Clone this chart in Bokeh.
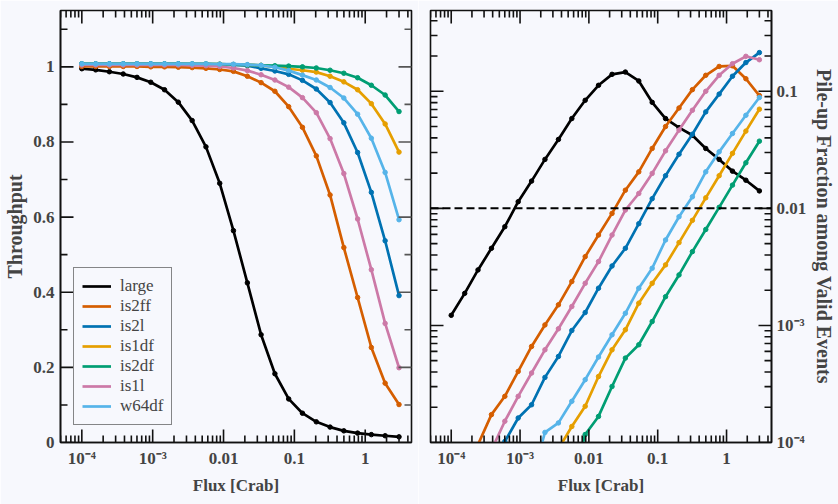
import math
import numpy as np
from bokeh.plotting import figure
from bokeh.models import (SingleIntervalTicker, LogTicker, CustomJSTickFormatter,
                          Span, Legend, LegendItem, Range1d)
from bokeh.layouts import row
from bokeh.embed import file_html
from bokeh.resources import INLINE

nan = float("nan")

# ---------------- data ----------------
flux = [1.0e-4, 1.57e-4, 2.45e-4, 3.84e-4, 6.01e-4, 9.4e-4, 1.47e-3, 2.30e-3,
        3.61e-3, 5.65e-3, 8.84e-3, 0.0138, 0.0217, 0.0339, 0.0531, 0.0831,
        0.130, 0.204, 0.319, 0.499, 0.781, 1.22, 1.91, 3.0]

series_names = ["large", "is2ff", "is2l", "is1df", "is2df", "is1l", "w64df"]
series_colors = ["#000000", "#d55e00", "#0072b2", "#e69f00", "#009e73", "#cc79a7", "#56b4e9"]

# Throughput (left panel)
thr_large = [0.995, 0.992, 0.987, 0.981, 0.972, 0.959, 0.939, 0.906, 0.857, 0.787,
             0.690, 0.564, 0.425, 0.287, 0.183, 0.116, 0.078, 0.055, 0.041, 0.031,
             0.025, 0.021, 0.018, 0.015]
thr_is2ff = [1.001, 1.001, 1.001, 1.001, 1.001, 1.000, 1.000, 0.999, 0.998, 0.996,
             0.993, 0.988, 0.975, 0.958, 0.935, 0.894, 0.839, 0.763, 0.659, 0.519,
             0.386, 0.253, 0.158, 0.101]
thr_is2l = [1.008, 1.008, 1.008, 1.008, 1.008, 1.008, 1.008, 1.008, 1.007, 1.007,
            1.006, 1.005, 1.003, 0.996, 0.989, 0.980, 0.964, 0.941, 0.905, 0.851,
            0.772, 0.666, 0.537, 0.391]
thr_is1df = [1.007, 1.007, 1.007, 1.007, 1.007, 1.007, 1.007, 1.007, 1.007, 1.007,
             1.007, 1.006, 1.005, 1.004, 1.000, 0.995, 0.991, 0.986, 0.975, 0.960,
             0.939, 0.902, 0.848, 0.773]
thr_is2df = [1.008, 1.008, 1.008, 1.008, 1.008, 1.008, 1.008, 1.008, 1.008, 1.008,
             1.007, 1.006, 1.005, 1.004, 1.003, 1.002, 1.000, 0.997, 0.991, 0.983,
             0.971, 0.951, 0.925, 0.881]
thr_is1l = [1.005, 1.005, 1.005, 1.005, 1.005, 1.005, 1.005, 1.005, 1.004, 1.003,
            1.001, 0.997, 0.990, 0.979, 0.965, 0.946, 0.918, 0.878, 0.809, 0.716,
            0.595, 0.460, 0.317, 0.199]
thr_w64df = [1.008, 1.008, 1.008, 1.008, 1.008, 1.008, 1.008, 1.008, 1.008, 1.008,
             1.007, 1.007, 1.006, 1.004, 0.999, 0.990, 0.978, 0.965, 0.945, 0.917,
             0.874, 0.810, 0.719, 0.593]

# Pile-up fraction (right panel)
pu_large = [1.22e-3, 1.88e-3, 2.98e-3, 4.56e-3, 6.97e-3, 0.0114, 0.0171, 0.0262,
            0.0388, 0.0585, 0.0838, 0.1125, 0.1396, 0.146, 0.1225, 0.0805, 0.0585,
            0.049, 0.0421, 0.0325, 0.0262, 0.0208, 0.0174, 0.0141]
pu_is2ff = [nan, nan, 9.6e-5, 1.73e-4, 2.48e-4, 4.05e-4, 6.61e-4, 1.01e-3, 1.50e-3,
            2.37e-3, 3.87e-3, 5.92e-3, 9.06e-3, 0.0143, 0.0205, 0.0325, 0.050, 0.072,
            0.1033, 0.137, 0.163, 0.165, 0.128, 0.092]
pu_is2l = [nan, nan, nan, nan, 1.02e-4, 1.62e-4, 2.10e-4, 3.60e-4, 5.43e-4, 9.05e-4,
           1.29e-3, 2.08e-3, 3.22e-3, 4.56e-3, 7.4e-3, 0.0121, 0.019, 0.029, 0.043,
           0.0667, 0.0946, 0.1345, 0.176, 0.214]
pu_is1df = [nan, nan, nan, nan, nan, nan, nan, nan, 8.8e-5, 1.37e-4, 2.04e-4, 3.66e-4,
            6.19e-4, 9.18e-4, 1.55e-3, 2.29e-3, 3.29e-3, 5.1e-3, 7.9e-3, 0.0123,
            0.019, 0.0295, 0.0457, 0.0703]
pu_is2df = [nan, nan, nan, nan, nan, nan, nan, nan, nan, 4.6e-5, 1.17e-4, 1.67e-4,
            3.01e-4, 5.26e-4, 6.84e-4, 1.08e-3, 1.76e-3, 2.70e-3, 4.27e-3, 6.6e-3,
            0.0102, 0.0158, 0.0245, 0.0375]
pu_is1l = [nan, nan, nan, 8.6e-5, 1.52e-4, 2.48e-4, 3.92e-4, 6.19e-4, 9.36e-4, 1.45e-3,
           2.29e-3, 3.51e-3, 5.92e-3, 9.68e-3, 0.0134, 0.0199, 0.031, 0.0466, 0.0689,
           0.100, 0.137, 0.172, 0.199, 0.186]
pu_w64df = [nan, nan, nan, nan, nan, nan, 4.7e-5, 1.22e-4, 1.47e-4, 2.25e-4, 3.44e-4,
            5.37e-4, 8.32e-4, 1.27e-3, 2.08e-3, 3.08e-3, 5.37e-3, 8.48e-3, 0.01256,
            0.0205, 0.0304, 0.0436, 0.0624, 0.0885]

pileup_threshold = 0.01

throughput = [thr_large, thr_is2ff, thr_is2l, thr_is1df, thr_is2df, thr_is1l, thr_w64df]
pileup = [pu_large, pu_is2ff, pu_is2l, pu_is1df, pu_is2df, pu_is1l, pu_w64df]

# ticks and tick labels
x_major_ticks = [1e-4, 1e-3, 1e-2, 1e-1, 1.0]
x_tick_exponents = [-4, -3, -2, -1, 0]
x_tick_labels = ["10\u207b\u2074", "10\u207b\u00b3", "0.01", "0.1", "1"]
y1_major_ticks = [0.0, 0.2, 0.4, 0.6, 0.8, 1.0]
y1_minor_ticks = [0.1, 0.3, 0.5, 0.7, 0.9, 1.1]
y1_tick_labels = ["0", "0.2", "0.4", "0.6", "0.8", "1"]
y2_major_ticks = [1e-4, 1e-3, 1e-2, 1e-1]
y2_tick_exponents = [-4, -3, -2, -1]
y2_tick_labels = ["10\u207b\u2074", "10\u207b\u00b3", "0.01", "0.1"]
minor_multipliers = [2, 3, 4, 5, 6, 7, 8, 9]

x_label = "Flux [Crab]"
y1_label = "Throughput"
y2_label = "Pile-up Fraction among Valid Events"

# ---------------- style ----------------
FONT = "Liberation Serif"
BG = "#f7f8fd"
INK = "#111111"
X_RANGE = (5.0e-5, 4.5)
Y1_RANGE = (0.0, 1.15)
Y2_RANGE = (1.0e-4, 0.49)
MAJOR_LEN = 13
MINOR_LEN = 7


def log_minor(decades, lo, hi):
    return [m * d for d in decades for m in minor_multipliers if lo <= m * d <= hi]


x_minor_ticks = log_minor([1e-5] + x_major_ticks, *X_RANGE)
y2_minor_ticks = log_minor(y2_major_ticks, *Y2_RANGE)

log_fmt_code = """
const e = Math.round(Math.log10(tick));
const i = exps.indexOf(e);
return i >= 0 ? labels[i] : "";
"""


def style_axis(ax):
    ax.axis_line_color = INK
    ax.axis_line_width = 1.6
    ax.major_tick_line_color = None
    ax.minor_tick_line_color = None
    ax.major_tick_in = 0
    ax.major_tick_out = 0
    ax.minor_tick_in = 0
    ax.minor_tick_out = 0
    ax.major_label_text_font = FONT
    ax.major_label_text_font_style = "bold"
    ax.major_label_text_font_size = "17px"
    ax.major_label_standoff = 6
    ax.axis_label_text_font = FONT
    ax.axis_label_text_font_style = "bold"


def edge_ticks(p, along_x, values, edge, length, color=INK):
    # inward tick marks: a line marker centred on the frame edge, half of it clipped by the frame
    if along_x:
        p.scatter(values, [edge] * len(values), marker="dash", size=2 * length,
                  angle=math.pi / 2, line_color=color, line_width=1.6)
    else:
        p.scatter([edge] * len(values), values, marker="dash", size=2 * length,
                  angle=0, line_color=color, line_width=1.6)


def base_figure(width, border_left, border_right, y_rng, **kw):
    p = figure(width=width, height=504, output_backend="svg", toolbar_location=None,
               x_axis_type="log", x_range=Range1d(*X_RANGE), y_range=Range1d(*y_rng),
               min_border_left=border_left, min_border_right=border_right,
               min_border_top=10, min_border_bottom=62, **kw)
    p.background_fill_color = BG
    p.border_fill_color = BG
    p.outline_line_color = INK
    p.outline_line_width = 1.6
    p.grid.visible = False
    return p


# ---------------- left panel: throughput ----------------
p1 = base_figure(418, 60, 7, Y1_RANGE)
xa = p1.xaxis[0]
xa.ticker = LogTicker()
xa.formatter = CustomJSTickFormatter(args=dict(exps=x_tick_exponents, labels=x_tick_labels),
                                     code=log_fmt_code)
xa.axis_label = x_label
xa.axis_label_text_font_size = "17px"
xa.axis_label_standoff = 5
style_axis(xa)

ya = p1.yaxis[0]
ya.ticker = SingleIntervalTicker(interval=0.2, num_minor_ticks=2)
ya.formatter = CustomJSTickFormatter(args=dict(labels=y1_tick_labels),
                                     code="const i = Math.round(tick / 0.2); return labels[i] ?? '';")
ya.axis_label = y1_label
ya.axis_label_text_font_size = "20px"
ya.axis_label_standoff = 4
style_axis(ya)

items = []
for name, color, ys in zip(series_names, series_colors, throughput):
    yv = np.array(ys, dtype=float)
    r = p1.line(flux, yv, line_color=color, line_width=2.7)
    p1.scatter(flux, yv, size=4.5, fill_color=color, line_color=color)
    items.append(LegendItem(label=name, renderers=[r]))

for edge in (Y1_RANGE[0], Y1_RANGE[1]):
    edge_ticks(p1, True, x_major_ticks, edge, MAJOR_LEN)
    edge_ticks(p1, True, x_minor_ticks, edge, MINOR_LEN)
edge_ticks(p1, False, y1_major_ticks, X_RANGE[0], MAJOR_LEN)
edge_ticks(p1, False, y1_minor_ticks, X_RANGE[0], MINOR_LEN)
edge_ticks(p1, False, y1_major_ticks, X_RANGE[1], MAJOR_LEN, color="#555555")
edge_ticks(p1, False, y1_minor_ticks, X_RANGE[1], MINOR_LEN, color="#555555")

legend = Legend(items=items, location=(13, 17), margin=0, padding=8, spacing=0,
                label_height=20, glyph_height=20, glyph_width=29, label_standoff=9,
                label_text_font=FONT, label_text_font_size="17px",
                border_line_color=INK, border_line_width=1.2,
                background_fill_color=BG, background_fill_alpha=1.0)
p1.add_layout(legend)

# ---------------- right panel: pile-up fraction ----------------
p2 = base_figure(420, 12, 58, Y2_RANGE, y_axis_type="log", y_axis_location="right")
xb = p2.xaxis[0]
xb.ticker = LogTicker()
xb.formatter = CustomJSTickFormatter(args=dict(exps=x_tick_exponents, labels=x_tick_labels),
                                     code=log_fmt_code)
xb.axis_label = x_label
xb.axis_label_text_font_size = "17px"
xb.axis_label_standoff = 5
style_axis(xb)

yb = p2.yaxis[0]
yb.ticker = LogTicker()
yb.formatter = CustomJSTickFormatter(args=dict(exps=y2_tick_exponents, labels=y2_tick_labels),
                                     code=log_fmt_code)
yb.axis_label = y2_label
yb.axis_label_text_font_size = "20px"
yb.axis_label_standoff = 4
style_axis(yb)
yb.major_label_standoff = 5

p2.add_layout(Span(location=pileup_threshold, dimension="width", line_color="black",
                   line_width=2, line_dash="8 4"))

for name, color, ys in zip(series_names, series_colors, pileup):
    yv = np.array(ys, dtype=float)
    p2.line(flux, yv, line_color=color, line_width=2.7)
    p2.scatter(flux, yv, size=4.5, fill_color=color, line_color=color)

for edge in (Y2_RANGE[0], Y2_RANGE[1]):
    edge_ticks(p2, True, x_major_ticks, edge, MAJOR_LEN)
    edge_ticks(p2, True, x_minor_ticks, edge, MINOR_LEN)
for edge in (X_RANGE[0], X_RANGE[1]):
    edge_ticks(p2, False, y2_major_ticks, edge, MAJOR_LEN)
    edge_ticks(p2, False, y2_minor_ticks, edge, MINOR_LEN)

layout = row(p1, p2)
open("out.html", "w").write(file_html(layout, INLINE))
